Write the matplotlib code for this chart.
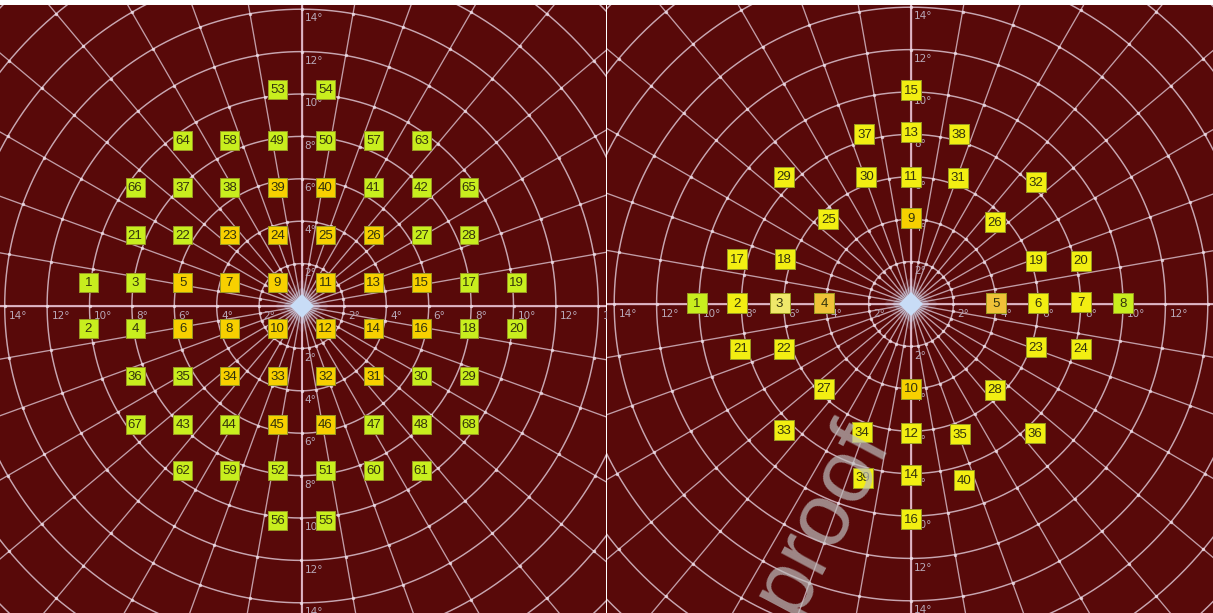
import matplotlib
matplotlib.use("Agg")
import matplotlib.pyplot as plt
import numpy as np

# ---------------- data ----------------
ring_degrees = [2, 4, 6, 8, 10, 12, 14, 16, 18, 20, 22]
label_degrees = [2, 4, 6, 8, 10, 12, 14]
spoke_angles = list(range(0, 360, 10))

# left panel stimulus points (degrees)
left_labels = [53, 54,
               64, 58, 49, 50, 57, 63,
               66, 37, 38, 39, 40, 41, 42, 65,
               21, 22, 23, 24, 25, 26, 27, 28,
               1, 3, 5, 7, 9, 11, 13, 15, 17, 19,
               2, 4, 6, 8, 10, 12, 14, 16, 18, 20,
               36, 35, 34, 33, 32, 31, 30, 29,
               67, 43, 44, 45, 46, 47, 48, 68,
               62, 59, 52, 51, 60, 61,
               56, 55]
left_x = [-1.13, 1.13,
          -5.6, -3.4, -1.13, 1.13, 3.4, 5.65,
          -7.85, -5.6, -3.4, -1.13, 1.13, 3.4, 5.65, 7.9,
          -7.85, -5.6, -3.4, -1.13, 1.13, 3.4, 5.65, 7.9,
          -10.05, -7.85, -5.6, -3.4, -1.13, 1.13, 3.4, 5.65, 7.9, 10.15,
          -10.05, -7.85, -5.6, -3.4, -1.13, 1.13, 3.4, 5.65, 7.9, 10.15,
          -7.85, -5.6, -3.4, -1.13, 1.13, 3.4, 5.65, 7.9,
          -7.85, -5.6, -3.4, -1.13, 1.13, 3.4, 5.65, 7.9,
          -5.6, -3.4, -1.13, 1.13, 3.4, 5.65,
          -1.13, 1.13]
left_y = [10.2, 10.2,
          7.8, 7.8, 7.8, 7.8, 7.8, 7.8,
          5.6, 5.6, 5.6, 5.6, 5.6, 5.6, 5.6, 5.6,
          3.35, 3.35, 3.35, 3.35, 3.35, 3.35, 3.35, 3.35,
          1.1, 1.1, 1.1, 1.1, 1.1, 1.1, 1.1, 1.1, 1.1, 1.1,
          -1.05, -1.05, -1.05, -1.05, -1.05, -1.05, -1.05, -1.05, -1.05, -1.05,
          -3.3, -3.3, -3.3, -3.3, -3.3, -3.3, -3.3, -3.3,
          -5.6, -5.6, -5.6, -5.6, -5.6, -5.6, -5.6, -5.6,
          -7.75, -7.75, -7.75, -7.75, -7.75, -7.75,
          -10.1, -10.1]
left_tone = ["L", "L",
             "L", "L", "L", "L", "L", "L",
             "L", "L", "L", "G", "G", "L", "L", "L",
             "L", "L", "G", "G", "G", "G", "L", "L",
             "L", "L", "G", "G", "G", "G", "G", "G", "L", "L",
             "L", "L", "G", "G", "G", "G", "G", "G", "L", "L",
             "L", "L", "G", "G", "G", "G", "L", "L",
             "L", "L", "L", "G", "G", "L", "L", "L",
             "L", "L", "L", "L", "L", "L",
             "L", "L"]

# right panel stimulus points (degrees)
right_labels = list(range(1, 41))
right_x = [-10.1, -8.2, -6.2, -4.1, 4.0, 6.0, 8.0, 10.0,
           0, 0, 0, 0, 0, 0, 0, 0,
           -8.2, -5.95, 5.9, 8.0,
           -8.05, -6.0, 5.9, 8.0,
           -3.9, 3.95, -4.1, 3.95,
           -6.0, -2.1, 2.2, 5.9,
           -6.0, -2.3, 2.3, 5.85,
           -2.2, 2.25, -2.25, 2.5]
right_y = [0.05, 0.05, 0.05, 0.05, 0.05, 0.05, 0.1, 0.05,
           4.05, -4.0, 6.0, -6.1, 8.1, -8.05, 10.1, -10.15,
           2.1, 2.1, 2.05, 2.05,
           -2.1, -2.1, -2.05, -2.1,
           4.0, 3.85, -4.0, -4.05,
           6.0, 6.0, 5.95, 5.75,
           -5.95, -6.05, -6.15, -6.1,
           8.0, 8.0, -8.2, -8.3]
right_tone = ["L", "Y", "P", "O", "O", "Y", "Y", "L",
              "G", "G", "Y", "Y", "Y", "Y", "Y", "Y",
              "Y", "Y", "Y", "Y",
              "Y", "Y", "Y", "Y",
              "Y", "Y", "Y", "Y",
              "Y", "Y", "Y", "Y",
              "Y", "Y", "Y", "Y",
              "Y", "Y", "Y", "Y"]

tone_colors = {"L": "#c8ee1e", "G": "#f7d000", "Y": "#f2ee12",
               "P": "#efe86a", "O": "#efc238"}

# ---------------- style ----------------
BG = "#580909"
LINE = "#dcc2cf"
LABEL = "#b9a9b9"
NUM = "#34340c"

W, H = 1213, 613
DPI = 100
PX = 21.2  # pixels per degree
fig = plt.figure(figsize=(W / DPI, H / DPI), dpi=DPI, facecolor="white")


def panel(left_px, right_px, cx, cy, labels, xs, ys, tones, msize):
    top_px = 5
    ax = fig.add_axes([left_px / W, 0, (right_px - left_px) / W, (H - top_px) / H])
    ax.set_facecolor(BG)
    ax.set_xlim((left_px - cx) / PX, (right_px - cx) / PX)
    ax.set_ylim(-(H - cy) / PX, (cy - top_px) / PX)
    ax.set_aspect("auto")
    ax.axis("off")
    ax.add_patch(plt.Rectangle((0, 0), 1, 1, transform=ax.transAxes, color=BG, zorder=0))

    th = np.linspace(0, 2 * np.pi, 721)
    for r in ring_degrees:
        ax.plot(r * np.cos(th), r * np.sin(th), color=LINE, lw=1.05, alpha=0.85, zorder=1)
    rmax = ring_degrees[-1]
    for a in spoke_angles:
        t = np.deg2rad(a)
        ax.plot([0, rmax * np.cos(t)], [0, rmax * np.sin(t)], color=LINE, lw=0.95,
                alpha=0.8, zorder=1)
    # axes cross
    ax.plot([-rmax, rmax], [0, 0], color="#e2b8c8", lw=1.5, alpha=0.9, zorder=1)
    ax.plot([0, 0], [-rmax, rmax], color="#e2b8c8", lw=1.5, alpha=0.9, zorder=1)
    # intersection dots
    R, A = np.meshgrid(ring_degrees, np.deg2rad(spoke_angles))
    ax.scatter((R * np.cos(A)).ravel(), (R * np.sin(A)).ravel(), s=6, color="#f0e0ea",
               alpha=0.8, lw=0, zorder=2)
    # ring labels
    for r in label_degrees:
        for sx in (-1, 1):
            ax.text(sx * r + 0.2, -0.25, f"{r}°", color=LABEL, fontsize=7.5,
                    ha="left", va="top", zorder=2)
            ax.text(0.15, sx * r - 0.2, f"{r}°", color=LABEL, fontsize=7.5,
                    ha="left", va="top", zorder=2)
    # center fixation glow
    for ms, al in ((28, 0.12), (19, 0.3), (12, 1.0)):
        ax.plot([0], [0], marker="D", ms=ms, color="#c8dcf6", alpha=al, mew=0, zorder=3)

    cols = [tone_colors[t] for t in tones]
    ax.scatter(xs, ys, marker="s", s=msize ** 2, c=cols, edgecolors="#9a9a22",
               linewidths=0.7, zorder=4)
    for lab, x, y in zip(labels, xs, ys):
        ax.text(x, y - 0.03, str(lab), color=NUM, fontsize=9.5, ha="center", va="center",
                family="Liberation Sans", zorder=5)
    return ax


panel(0, 606, 301.5, 306, left_labels, left_x, left_y, left_tone, 13.6)
panel(607, 1213, 911, 304, right_labels, right_x, right_y, right_tone, 14.4)

# watermark
fig.text(822 / W, 1 - 518 / H, "proof", fontsize=64, color="#bdbdbd", alpha=0.7,
         rotation=62, ha="center", va="center", family="Liberation Sans", zorder=10)

fig.savefig("out.png", dpi=DPI, facecolor="white")
